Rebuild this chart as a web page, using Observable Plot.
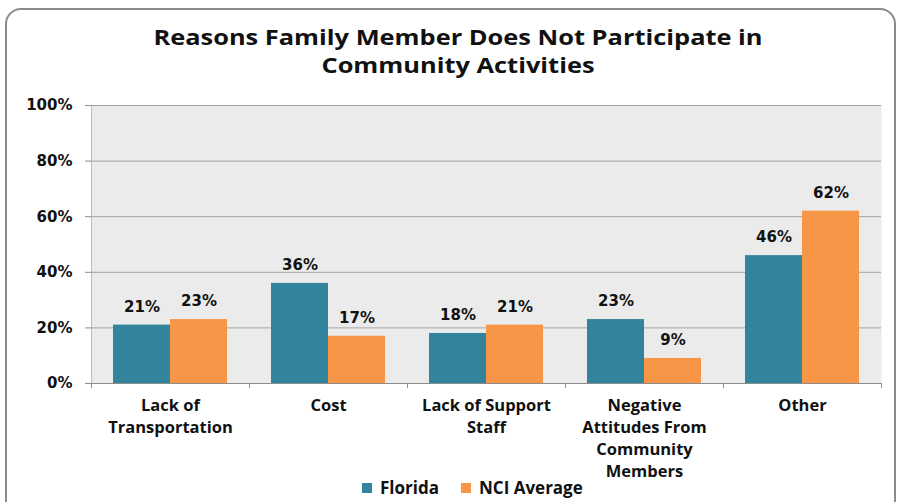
<!DOCTYPE html>
<html>
<head>
<meta charset="utf-8">
<script src="https://cdn.jsdelivr.net/npm/d3@7"></script>
<script src="https://cdn.jsdelivr.net/npm/@observablehq/plot@0.6"></script>
<style>
  html, body { margin: 0; padding: 0; background: #fff; }
  #page { position: relative; width: 903px; height: 502px; overflow: hidden; }
  #border { position: absolute; left: 5px; top: 8px; width: 891px; height: 520px;
            border: 2px solid #8a8a8a; border-radius: 16px; box-sizing: border-box; }
  #title { position: absolute; left: 0; width: 916px; top: 23px; text-align: center;
           font-family: "Open Sans", sans-serif; font-weight: bold; font-size: 21px; line-height: 28px; color: #111;
           transform: scaleX(1.21); transform-origin: 458px 0; }
  #chart { position: absolute; left: 0; top: 95px; }
  #chart svg { color: #8c8c8c; overflow: visible; }
  #chart svg [aria-label^="y-axis"] text { fill: #111 !important; font-family: "DejaVu Sans", sans-serif !important; font-weight: bold !important; font-size: 15px !important; }
  #legend { position: absolute; top: 476px; left: 362px; display: flex; align-items: center;
            font-family: "Open Sans", sans-serif; font-weight: bold; font-size: 17px; color: #111; }
  #legend .sw { width: 10px; height: 10px; display: inline-block; margin-right: 8px; }
  #legend .item { display: flex; align-items: center; margin-right: 22px; }
</style>
</head>
<body>
<div id="page">
  <div id="border"></div>
  <div id="title">Reasons Family Member Does Not Participate in<br>Community Activities</div>
  <div id="chart"></div>
  <div id="legend"></div>
</div>
<script>
const categories = ["Lack of Transportation", "Cost", "Lack of Support Staff", "Negative Attitudes From Community Members", "Other"];
const categoryLabels = ["Lack of\nTransportation", "Cost", "Lack of Support\nStaff", "Negative\nAttitudes From\nCommunity\nMembers", "Other"];
const florida = [21, 36, 18, 23, 46];
const nciAverage = [23, 17, 21, 9, 62];
const seriesNames = ["Florida", "NCI Average"];
const seriesColors = ["#31849b", "#f79646"];
const yTicks = [0, 20, 40, 60, 80, 100];
const gridTicks = [20, 40, 60, 80, 100];

const rows = categories.map((c, i) => ({category: c, label: categoryLabels[i], florida: florida[i], nci: nciAverage[i]}));
const lastCat = [categories[categories.length - 1]];

const plot = Plot.plot({
  width: 903,
  height: 407,
  marginTop: 10,
  marginBottom: 119,
  marginLeft: 91,
  marginRight: 22,
  style: {background: "transparent", overflow: "visible"},
  x: {domain: categories, padding: 0, axis: null},
  y: {domain: [0, 100], ticks: yTicks, tickFormat: d => d + "%", tickSize: 6, tickPadding: 13, line: true, label: null},
  marks: [
    Plot.frame({fill: "#ebebeb", stroke: null}),
    Plot.ruleY(gridTicks, {stroke: "#a3a3a3", strokeWidth: 1}),
    Plot.barY(rows, {x: "category", y: "florida", fill: seriesColors[0], insetLeft: 22, insetRight: 79}),
    Plot.barY(rows, {x: "category", y: "nci", fill: seriesColors[1], insetLeft: 79, insetRight: 22}),
    Plot.ruleY([0], {stroke: "#8c8c8c"}),
    Plot.ruleX(categories, {x: d => d, dx: -79, y1: 0, insetBottom: -5, stroke: "#8c8c8c"}),
    Plot.ruleX(lastCat, {x: d => d, dx: 79, y1: 0, insetBottom: -5, stroke: "#8c8c8c"}),
    Plot.text(rows, {x: "category", y: "florida", text: d => d.florida + "%", dx: -28.5, dy: -18,
      fill: "#111", fontFamily: "DejaVu Sans, sans-serif", fontWeight: "bold", fontSize: 15}),
    Plot.text(rows, {x: "category", y: "nci", text: d => d.nci + "%", dx: 28.5, dy: -18,
      fill: "#111", fontFamily: "DejaVu Sans, sans-serif", fontWeight: "bold", fontSize: 15}),
    Plot.text(rows, {x: "category", text: "label", frameAnchor: "bottom", lineAnchor: "top", dy: 12.5, lineHeight: 1.32,
      fill: "#111", fontFamily: "Open Sans, sans-serif", fontWeight: "bold", fontSize: 16.5})
  ]
});
document.getElementById("chart").appendChild(plot);

const legend = document.getElementById("legend");
seriesNames.forEach((name, i) => {
  const item = document.createElement("span");
  item.className = "item";
  const sw = document.createElement("span");
  sw.className = "sw";
  sw.style.background = seriesColors[i];
  item.appendChild(sw);
  item.appendChild(document.createTextNode(name));
  legend.appendChild(item);
});
</script>
</body>
</html>
